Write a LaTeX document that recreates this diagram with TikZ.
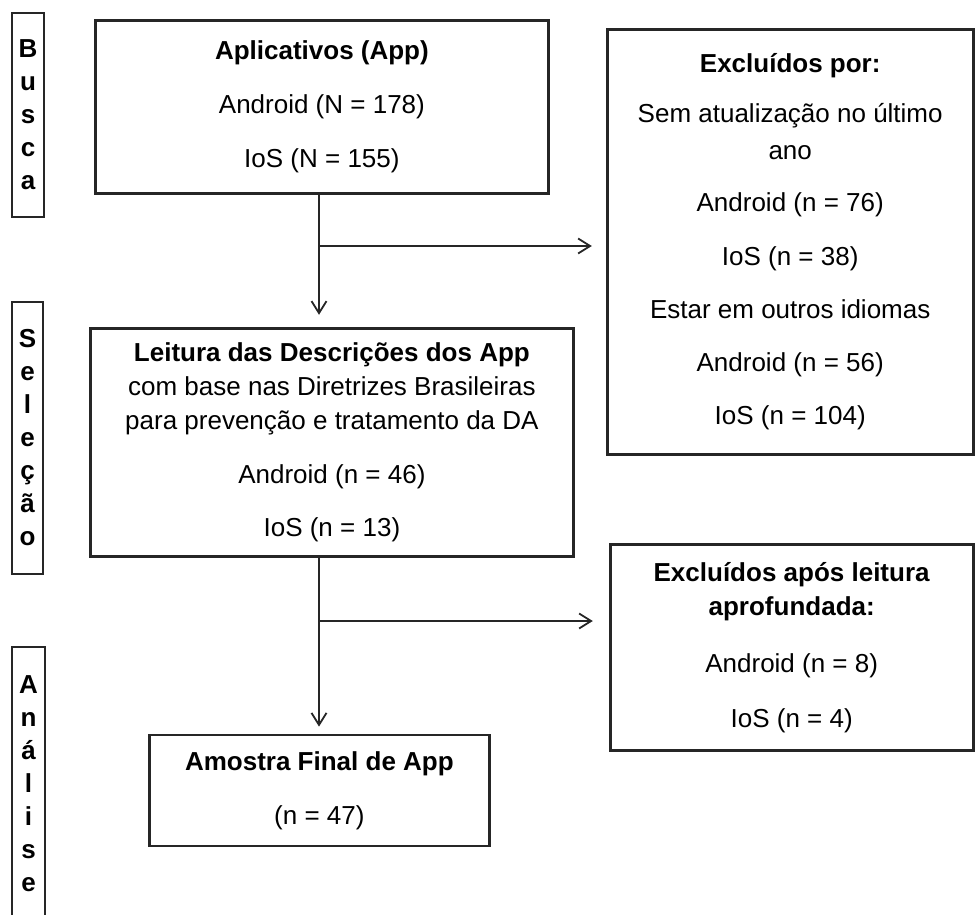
\documentclass[tikz,border=0pt]{standalone}
\usepackage{fontspec}
\setmainfont{Liberation Sans}
\usepackage{tikz}
\usetikzlibrary{positioning,arrows.meta}

\begin{document}
\begin{tikzpicture}[x=0.5pt, y=-0.5pt,
    flowbox/.style={rectangle, draw=black!85, line width=1.4pt, align=center,
                    inner sep=2pt, font=\fontsize{13pt}{17pt}\selectfont},
    stagebox/.style={rectangle, draw=black!85, line width=1.4pt, align=center,
                     inner sep=1pt, font=\fontsize{13pt}{16.5pt}\selectfont\bfseries},
    arrow/.style={-{Straight Barb[length=6pt, width=7.5pt]}, line width=0.9pt, black!85}
]
\useasboundingbox (0,0) rectangle (975,915);

% Stages on the left
\node[stagebox, minimum width=16pt, minimum height=102pt] (busca) at (28,115) {B\\u\\s\\c\\a};
\node[stagebox, minimum width=15.5pt, minimum height=136pt] (selecao) at (27.5,438) {S\\e\\l\\e\\ç\\ã\\o};
\node[stagebox, minimum width=16.5pt, minimum height=136.5pt] (analise) at (28.5,783.5) {A\\n\\á\\l\\i\\s\\e};

% Main flow
\node[flowbox, minimum width=226.5pt, minimum height=86.5pt, anchor=north west] (app) at (94,19)
    {\textbf{Aplicativos (App)}\\[10pt] Android (N = 178)\\[10pt] IoS (N = 155)};
\node[flowbox, minimum width=241.5pt, minimum height=114pt, below=66pt of app.south, xshift=5pt] (leitura)
    {\textbf{Leitura das Descrições dos App}\\ com base nas Diretrizes Brasileiras\\ para prevenção e tratamento da DA\\[10pt]
     Android (n = 46)\\[9.5pt] IoS (n = 13)};
\node[flowbox, minimum width=170pt, minimum height=55.5pt, below=88pt of leitura.south, xshift=-6.25pt] (amostra)
    {\textbf{Amostra Final de App}\\[10pt] (n = 47)};

% Exclusions on the right
\node[flowbox, minimum width=183pt, minimum height=212.5pt, right=28pt of app.north east, anchor=north west, yshift=-4.5pt] (excl1)
    {\textbf{Excluídos por:}\\[8pt] Sem atualização no último\\[1.5pt] ano\\[9pt] Android (n = 76)\\[10pt] IoS (n = 38)\\[9.5pt]
     Estar em outros idiomas\\[9.5pt] Android (n = 56)\\[9.5pt] IoS (n = 104)};
\node[flowbox, minimum width=181.5pt, minimum height=103pt, below=43.5pt of excl1.south west, anchor=north west, xshift=1.5pt] (excl2)
    {\textbf{Excluídos após leitura}\\ \textbf{aprofundada:}\\[11.5pt] Android (n = 8)\\[10.5pt] IoS (n = 4)};

% Split points
\coordinate (split1) at (319,246);
\coordinate (split2) at (319,621);

% Arrows - first level
\draw[arrow, shorten >=6pt] (app.south -| split1) -- (leitura.north -| split1);
\draw[arrow, shorten >=7pt] (split1) -- (excl1.west |- split1);

% Arrows - second level
\draw[arrow, shorten >=3.5pt] (leitura.south -| split2) -- (amostra.north -| split2);
\draw[arrow, shorten >=8pt] (split2) -- (excl2.west |- split2);

\end{tikzpicture}
\end{document}
